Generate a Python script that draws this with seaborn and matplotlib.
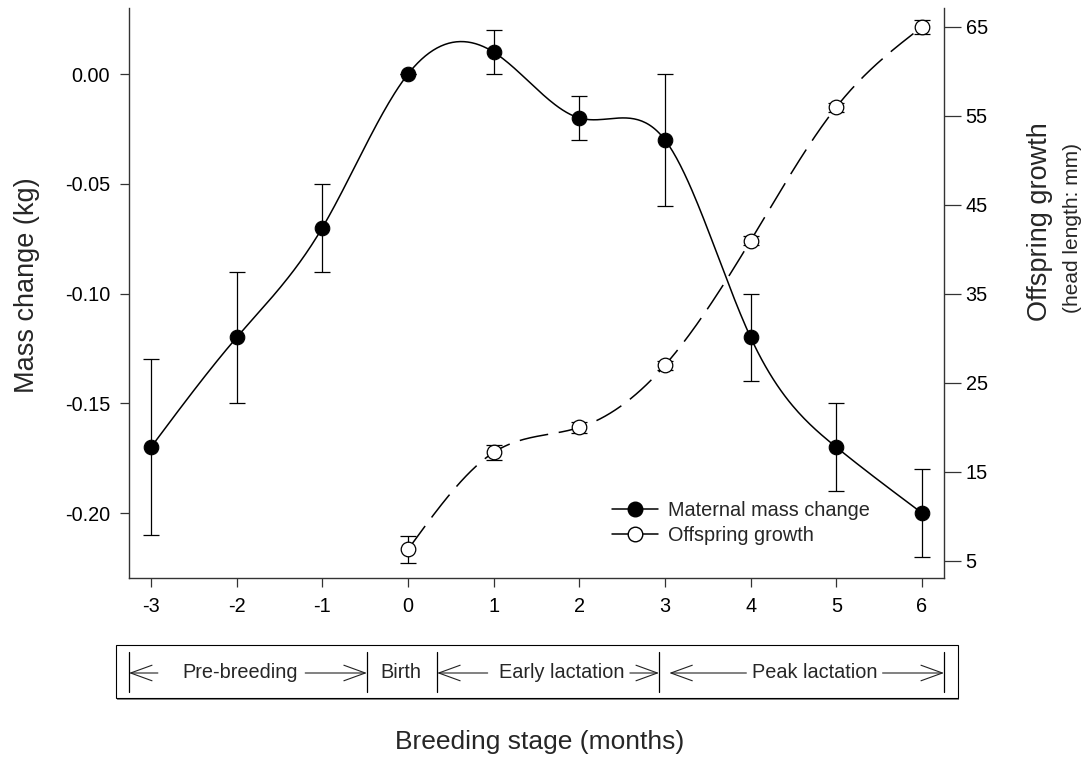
import numpy as np
import pandas as pd
import matplotlib
matplotlib.use("Agg")
import matplotlib.pyplot as plt
import matplotlib.transforms as mtransforms
from matplotlib.lines import Line2D
from matplotlib.patches import Rectangle, FancyArrowPatch
import seaborn as sns

# ---------------- data ----------------
months = [-3, -2, -1, 0, 1, 2, 3, 4, 5, 6]
mass_change = [-0.17, -0.12, -0.07, 0.00, 0.01, -0.02, -0.03, -0.12, -0.17, -0.20]
mass_err = [0.04, 0.03, 0.02, 0.0, 0.01, 0.01, 0.03, 0.02, 0.02, 0.02]

off_months = [0, 1, 2, 3, 4, 5, 6]
head_length = [6.3, 17.2, 20.0, 27.0, 41.0, 56.0, 65.0]
head_err = [1.5, 0.8, 0.6, 0.5, 0.5, 0.5, 0.8]

stage_names = ["Pre-breeding", "Birth", "Early lactation", "Peak lactation"]
stage_edges = [-3.257, -0.48, 0.34, 2.93, 6.257]
stage_text_x = [-1.96, -0.08, 1.80, 4.75]
# (left arrow tail, left arrow head, right arrow tail, right arrow head)
stage_arrows = [(-2.92, -3.257, -1.20, -0.48), None,
                (0.93, 0.34, 2.59, 2.93), (3.95, 3.05, 5.54, 6.257)]

left_ticks = [0.00, -0.05, -0.10, -0.15, -0.20]
right_ticks = [5, 15, 25, 35, 45, 55, 65]


def natural_spline(x, y, n=400):
    x = np.asarray(x, float)
    y = np.asarray(y, float)
    k = len(x)
    h = np.diff(x)
    A = np.zeros((k, k))
    r = np.zeros(k)
    A[0, 0] = 1
    A[-1, -1] = 1
    for i in range(1, k - 1):
        A[i, i - 1] = h[i - 1]
        A[i, i] = 2 * (h[i - 1] + h[i])
        A[i, i + 1] = h[i]
        r[i] = 6 * ((y[i + 1] - y[i]) / h[i] - (y[i] - y[i - 1]) / h[i - 1])
    M = np.linalg.solve(A, r)
    xs = np.linspace(x[0], x[-1], n)
    idx = np.clip(np.searchsorted(x, xs) - 1, 0, k - 2)
    x0, x1 = x[idx], x[idx + 1]
    hh = x1 - x0
    a = (x1 - xs) / hh
    b = (xs - x0) / hh
    ys = (a * y[idx] + b * y[idx + 1]
          + ((a ** 3 - a) * M[idx] + (b ** 3 - b) * M[idx + 1]) * hh ** 2 / 6)
    return xs, ys


sns.set_style("white")
plt.rcParams["font.family"] = ["Liberation Sans", "DejaVu Sans"]
plt.rcParams["axes.linewidth"] = 1.0

fig = plt.figure(figsize=(10.9, 7.77), dpi=100)
W, H = 1090, 777
ax = fig.add_axes([129 / W, 1 - 578 / H, (944 - 129) / W, (578 - 8) / H])
ax2 = ax.twinx()

# maternal curve
xs, ys = natural_spline(months, mass_change)
sns.lineplot(x=xs, y=ys, ax=ax, color="black", linewidth=1.1, zorder=2)
ax.errorbar(months, mass_change, yerr=mass_err, fmt="none", ecolor="black",
            elinewidth=0.9, capsize=6, capthick=0.9, zorder=3)
sns.scatterplot(x=months, y=mass_change, ax=ax, color="black", s=110,
                edgecolor="black", linewidth=0.8, zorder=4)

# offspring curve
xo, yo = natural_spline(off_months, head_length)
sns.lineplot(x=xo, y=yo, ax=ax2, color="black", linewidth=1.1, zorder=2)
ax2.lines[-1].set_dashes((19, 7))
ax2.errorbar(off_months, head_length, yerr=head_err, fmt="none", ecolor="black",
             elinewidth=0.9, capsize=6, capthick=0.9, zorder=3)
sns.scatterplot(x=off_months, y=head_length, ax=ax2, color="white", s=110,
                edgecolor="black", linewidth=0.9, zorder=4)

# axes
ax.set_xlim(-3.257, 6.257)
ax.set_ylim(-0.2296, 0.0301)
ax2.set_ylim(3.09, 67.13)
ax.set_xticks(months)
ax.set_xticklabels([str(m) for m in months])
ax.set_yticks(left_ticks)
ax.set_yticklabels([f"{v:.2f}" for v in left_ticks])
ax2.set_yticks(right_ticks)
ax2.set_yticklabels([str(v) for v in right_ticks])
ax.set_xlabel("")
ax.set_ylabel("")
ax2.set_ylabel("")

for a in (ax, ax2):
    a.spines["top"].set_visible(False)
    for s in a.spines.values():
        s.set_color("#333333")
ax.spines["right"].set_visible(False)
ax2.spines["left"].set_visible(False)
ax2.spines["bottom"].set_visible(False)

ax.tick_params(axis="both", direction="out", length=6.5, width=0.9,
               labelsize=14.3, pad=7, colors="#333333", labelcolor="black",
               left=True, bottom=True)
ax2.tick_params(axis="y", direction="out", length=12.5, width=0.9,
                labelsize=14.3, pad=3, colors="#333333", labelcolor="black",
                right=True)

# legend
handles = [
    Line2D([0], [0], color="black", lw=1.1, marker="o", markersize=10.5,
           markerfacecolor="black", markeredgecolor="black"),
    Line2D([0], [0], color="black", lw=1.1, marker="o", markersize=10.5,
           markerfacecolor="white", markeredgecolor="black"),
]
ax2.legend(handles, ["Maternal mass change", "Offspring growth"],
           loc="upper left", bbox_to_anchor=((612 - 129) / 815, (578 - 501) / 570),
           frameon=False, fontsize=14.3, handlelength=2.3, handletextpad=0.5,
           labelspacing=0.3, borderpad=0, borderaxespad=0)

# axis labels
fig.text(27 / W, 1 - 285 / H, "Mass change (kg)", rotation=90, ha="center",
         va="center", fontsize=19.5)
fig.text(1040 / W, 1 - 222 / H, "Offspring growth", rotation=90, ha="center",
         va="center", fontsize=19.5)
fig.text(1072 / W, 1 - 228 / H, "(head length: mm)", rotation=90, ha="center",
         va="center", fontsize=15)
fig.text(540 / W, 1 - 742 / H, "Breeding stage (months)", ha="center",
         va="center", fontsize=19)

# stage box
fig.add_artist(Rectangle((117 / W, 1 - 700 / H), (959 - 117) / W, 2.5 / H,
                         transform=fig.transFigure, facecolor="#888888",
                         edgecolor="none", zorder=1))
fig.add_artist(Rectangle((116 / W, 1 - 698 / H), (958 - 116) / W, (698 - 645) / H,
                         transform=fig.transFigure, facecolor="white",
                         edgecolor="black", linewidth=0.8, zorder=2))
trans = mtransforms.blended_transform_factory(ax.transData, fig.transFigure)
y_top, y_bot, y_mid = 1 - 652 / H, 1 - 692 / H, 1 - 673 / H
for xe in stage_edges:
    fig.add_artist(Line2D([xe, xe], [y_bot, y_top], transform=trans,
                          color="black", lw=0.9, zorder=3))
for i, name in enumerate(stage_names):
    fig.text(stage_text_x[i], y_mid, name, transform=trans, ha="center",
             va="center", fontsize=14.3, zorder=3)
    spec = stage_arrows[i]
    if spec is None:
        continue
    lt, lh, rt, rh = spec
    for start, end in ((lt, lh), (rt, rh)):
        arr = FancyArrowPatch((start, y_mid), (end, y_mid), transform=trans,
                              arrowstyle="->,head_length=1.1,head_width=0.4",
                              mutation_scale=14, lw=0.8, color="#222222",
                              shrinkA=0, shrinkB=0, zorder=4)
        fig.add_artist(arr)

fig.savefig("out.png", dpi=100)
